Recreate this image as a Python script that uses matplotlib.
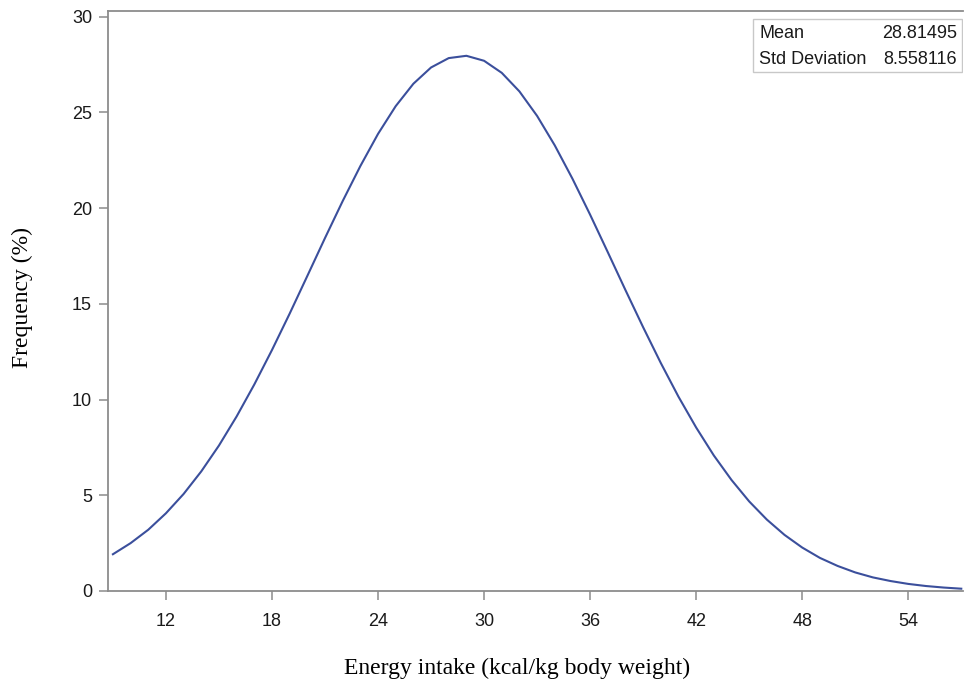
import numpy as np
import matplotlib
matplotlib.use("Agg")
import matplotlib.pyplot as plt
from matplotlib.patches import Rectangle

# values (frequency in %)
energy = [9, 10, 11, 12, 13, 14, 15, 16, 17, 18, 19, 20, 21, 22, 23, 24, 25,
          26, 27, 28, 29, 30, 31, 32, 33, 34, 35, 36, 37, 38, 39, 40, 41, 42,
          43, 44, 45, 46, 47, 48, 49, 50, 51, 52, 53, 54, 55, 56, 57]
freq = [1.92, 2.50, 3.20, 4.06, 5.07, 6.25, 7.60, 9.12, 10.79, 12.59, 14.49,
        16.46, 18.44, 20.37, 22.20, 23.88, 25.33, 26.50, 27.35, 27.84, 27.96,
        27.70, 27.07, 26.10, 24.82, 23.28, 21.54, 19.66, 17.70, 15.72, 13.78,
        11.91, 10.15, 8.54, 7.08, 5.80, 4.68, 3.73, 2.93, 2.27, 1.73, 1.31,
        0.97, 0.71, 0.52, 0.37, 0.26, 0.18, 0.12]
x_ticks = [12, 18, 24, 30, 36, 42, 48, 54]
y_ticks = [0, 5, 10, 15, 20, 25, 30]
stats_names = ["Mean", "Std Deviation"]
stats_values = ["28.81495", "8.558116"]

gray = "#8c8c8c"
tick_font = "Liberation Sans"
label_font = "Liberation Serif"

fig = plt.figure(figsize=(9.64, 6.88), dpi=100)
ax = fig.add_axes([0.112, 0.141, 0.887, 0.843])

ax.plot(energy, freq, color="#3b4f9c", linewidth=1.5)

ax.set_xlim(8.72, 57.1)
ax.set_ylim(0, 30.3)
ax.set_xticks(x_ticks)
ax.set_yticks(y_ticks)
for s in ax.spines.values():
    s.set_color(gray)
    s.set_linewidth(1.3)
ax.spines["right"].set_visible(False)
ax.tick_params(direction="out", length=6.5, width=1.1, color=gray,
               labelsize=13, labelcolor="#1a1a1a")
ax.tick_params(axis="x", pad=9)
ax.tick_params(axis="y", pad=5)
for lab in ax.get_xticklabels() + ax.get_yticklabels():
    lab.set_fontfamily(tick_font)

ax.set_xlabel("Energy intake (kcal/kg body weight)", fontfamily=label_font,
              fontsize=17, va="center", ha="center")
ax.set_ylabel("Frequency (%)", fontfamily=label_font, fontsize=17,
              va="center", ha="center")
ax.xaxis.set_label_coords(0.478, -0.133)
ax.yaxis.set_label_coords(-0.1006, 0.506)

# stats inset box
ax.add_patch(Rectangle((0.7544, 0.8948), 0.2444, 0.0914, transform=ax.transAxes,
                       facecolor="white", edgecolor="#c8c8c8", linewidth=1.0,
                       zorder=3))
row_y = [0.9620, 0.9172]
for name, val, yy in zip(stats_names, stats_values, row_y):
    ax.text(0.7614, yy, name, transform=ax.transAxes, ha="left", va="center",
            fontsize=13, fontfamily=tick_font, color="#1a1a1a", zorder=4)
    ax.text(0.9930, yy, val, transform=ax.transAxes, ha="right", va="center",
            fontsize=13, fontfamily=tick_font, color="#1a1a1a", zorder=4)

fig.savefig("out.png", dpi=100)
